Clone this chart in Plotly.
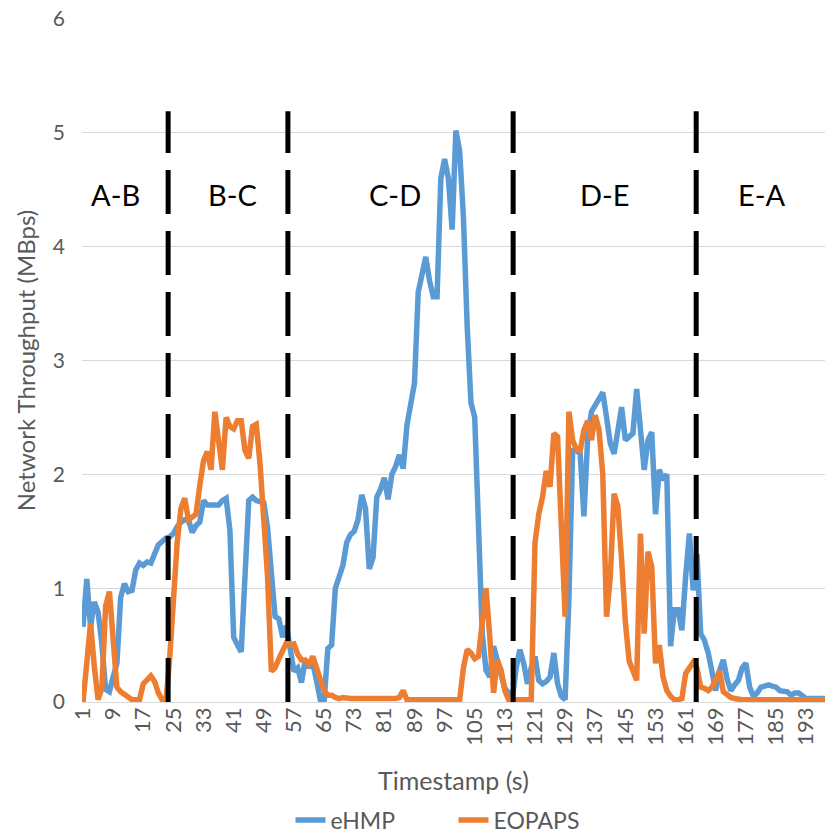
import plotly.graph_objects as go

timestamps = list(range(1, 199))

ehmp = [
    0.66, 1.08, 0.66, 0.88, 0.79, 0.51, 0.11, 0.09, 0.22, 0.34,
    0.92, 1.04, 0.97, 0.98, 1.16, 1.22, 1.20, 1.23, 1.22, 1.30,
    1.38, 1.41, 1.44, 1.45, 1.48, 1.54, 1.58, 1.60, 1.60, 1.49,
    1.55, 1.58, 1.77, 1.73, 1.73, 1.74, 1.73, 1.77, 1.79, 1.51,
    0.57, 0.50, 0.44, 1.10, 1.77, 1.80, 1.77, 1.76, 1.75, 1.53,
    1.10, 0.75, 0.73, 0.57, 0.67, 0.43, 0.27, 0.30, 0.17, 0.37,
    0.30, 0.35, 0.20, 0.02, 0.00, 0.47, 0.50, 1.00, 1.10, 1.20,
    1.40, 1.47, 1.50, 1.60, 1.82, 1.70, 1.17, 1.27, 1.80, 1.87,
    1.97, 1.78, 2.00, 2.07, 2.17, 2.05, 2.43, 2.63, 2.80, 3.60,
    3.75, 3.91, 3.70, 3.56, 3.56, 4.60, 4.77, 4.60, 4.15, 5.02,
    4.84, 4.26, 3.30, 2.63, 2.50, 1.50, 0.60, 0.28, 0.22, 0.49,
    0.37, 0.21, 0.12, 0.08, 0.03, 0.30, 0.46, 0.34, 0.16, 0.30,
    0.40, 0.19, 0.16, 0.18, 0.22, 0.43, 0.16, 0.05, 0.02, 0.90,
    2.21, 2.21, 2.18, 1.63, 2.33, 2.55, 2.60, 2.65, 2.72, 2.50,
    2.27, 2.18, 2.40, 2.59, 2.30, 2.33, 2.36, 2.75, 2.33, 2.04,
    2.30, 2.37, 1.65, 2.04, 1.95, 2.00, 0.49, 0.81, 0.81, 0.63,
    1.10, 1.48, 0.98, 1.30, 0.60, 0.54, 0.43, 0.25, 0.10, 0.28,
    0.37, 0.20, 0.10, 0.15, 0.19, 0.30, 0.34, 0.13, 0.05, 0.08,
    0.13, 0.14, 0.15, 0.14, 0.13, 0.10, 0.10, 0.09, 0.06, 0.08,
    0.08, 0.06, 0.03, 0.03, 0.03, 0.03, 0.03, 0.03,
]

eopaps = [
    0.00, 0.40, 0.69, 0.31, 0.02, 0.12, 0.84, 0.97, 0.55, 0.13,
    0.09, 0.07, 0.05, 0.02, 0.02, 0.02, 0.16, 0.19, 0.23, 0.18,
    0.08, 0.02, 0.00, 0.38, 0.90, 1.40, 1.70, 1.79, 1.60, 1.62,
    1.65, 1.90, 2.12, 2.20, 2.04, 2.55, 2.33, 2.04, 2.50, 2.42,
    2.40, 2.47, 2.47, 2.21, 2.14, 2.42, 2.44, 2.09, 1.60, 1.10,
    0.27, 0.30, 0.38, 0.45, 0.52, 0.50, 0.51, 0.42, 0.37, 0.37,
    0.33, 0.40, 0.30, 0.18, 0.10, 0.06, 0.06, 0.04, 0.03, 0.04,
    0.03, 0.03, 0.03, 0.03, 0.02, 0.02, 0.02, 0.02, 0.02, 0.02,
    0.03, 0.03, 0.03, 0.03, 0.04, 0.10, 0.02, 0.02, 0.02, 0.02,
    0.02, 0.02, 0.02, 0.02, 0.02, 0.02, 0.02, 0.02, 0.02, 0.02,
    0.02, 0.30, 0.46, 0.43, 0.38, 0.40, 0.66, 1.00, 0.57, 0.08,
    0.37, 0.28, 0.10, 0.02, 0.02, 0.02, 0.02, 0.02, 0.02, 0.02,
    1.40, 1.65, 1.80, 2.03, 1.89, 2.36, 2.33, 1.45, 0.75, 2.55,
    2.30, 2.22, 2.21, 2.39, 2.47, 2.30, 2.52, 2.39, 2.00, 0.75,
    1.10, 1.83, 1.72, 1.25, 0.70, 0.36, 0.28, 0.19, 1.48, 0.60,
    1.32, 1.19, 0.34, 0.50, 0.22, 0.10, 0.05, 0.02, 0.02, 0.03,
    0.25, 0.30, 0.35, 0.30, 0.13, 0.12, 0.10, 0.13, 0.20, 0.27,
    0.09, 0.06, 0.04, 0.03, 0.02, 0.02, 0.02, 0.02, 0.02, 0.02,
    0.02, 0.02, 0.02, 0.02, 0.02, 0.02, 0.02, 0.02, 0.02, 0.02,
    0.02, 0.02, 0.02, 0.02, 0.02, 0.02, 0.02, 0.02,
]

tick_values = list(range(1, 199, 8))
tick_labels = [str(v) for v in tick_values]

phase_boundaries = [23.6, 55.4, 115.2, 163.8]
phase_labels = ["A-B", "B-C", "C-D", "D-E", "E-A"]
phase_label_x = [9.5, 40.6, 83.8, 139.6, 181.3]
phase_label_y = 4.46
boundary_top = 5.19

FONT = "Lato"
GRAY = "#595959"

fig = go.Figure()
fig.add_trace(go.Scatter(x=timestamps, y=ehmp, mode="lines", name="eHMP",
                         line=dict(color="#5B9BD5", width=5.5)))
fig.add_trace(go.Scatter(x=timestamps, y=eopaps, mode="lines", name="EOPAPS",
                         line=dict(color="#ED7D31", width=5.5)))

for bx in phase_boundaries:
    fig.add_shape(type="line", xref="x", yref="y", x0=bx, x1=bx,
                  y0=0, y1=boundary_top,
                  line=dict(color="black", width=5, dash="44px,17px"))

for lab, lx in zip(phase_labels, phase_label_x):
    fig.add_annotation(x=lx, y=phase_label_y, xref="x", yref="y", text=lab,
                       showarrow=False, font=dict(family=FONT, size=29, color="black"))

# x-axis title placed as a paper-referenced annotation below the tick labels
fig.add_annotation(x=0.5, y=-0.114, xref="paper", yref="paper", text="Timestamp (s)",
                   showarrow=False, xanchor="center", yanchor="middle",
                   font=dict(family=FONT, size=25, color=GRAY))

fig.update_layout(
    width=825, height=831,
    margin=dict(l=82, r=0, t=19, b=129, autoexpand=False),
    plot_bgcolor="white", paper_bgcolor="white",
    font=dict(family=FONT, color=GRAY),
    showlegend=True,
    legend=dict(orientation="h", x=0.5, xanchor="center",
                yref="paper", y=-0.173, yanchor="middle",
                entrywidth=118, entrywidthmode="pixels",
                font=dict(family=FONT, size=23, color=GRAY)),
)
fig.update_xaxes(
    range=[0.73, 198], tickmode="array", tickvals=tick_values, ticktext=tick_labels,
    tickangle=-90, tickfont=dict(family=FONT, size=22, color=GRAY),
    showgrid=False, zeroline=False, showline=False, ticks="", automargin=False,
)
fig.update_yaxes(
    range=[0, 6], dtick=1, tickfont=dict(family=FONT, size=21, color=GRAY),
    showgrid=True, gridcolor="#D9D9D9", gridwidth=1.2,
    zeroline=True, zerolinecolor="#D9D9D9", zerolinewidth=1.2,
    showline=False, ticks="", ticklabelstandoff=16, automargin=False,
    title=dict(text="Network Throughput (MBps)", font=dict(family=FONT, size=24, color=GRAY), standoff=10),
)

fig.write_html("out.html")
